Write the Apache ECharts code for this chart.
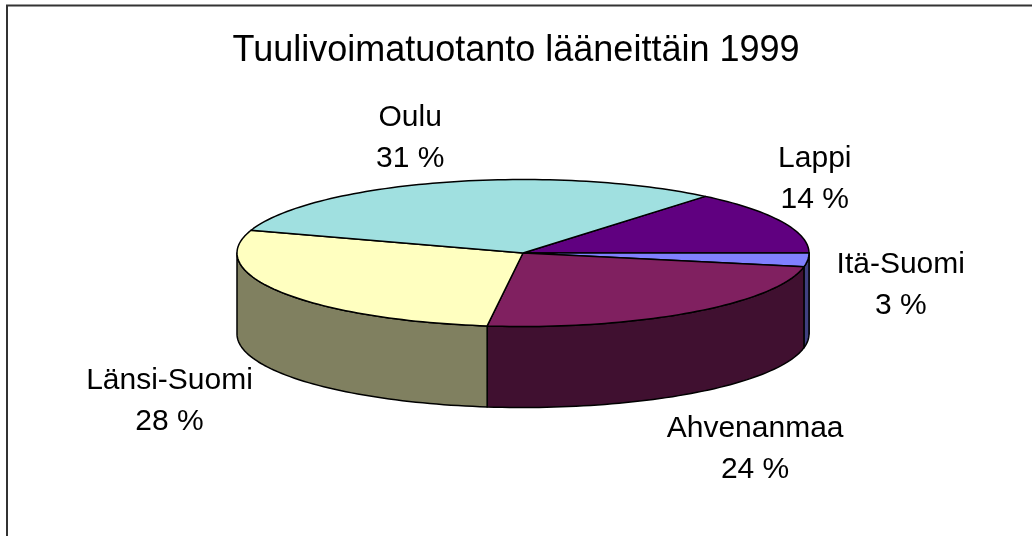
<!DOCTYPE html>
<html lang="fi">
<head>
    <meta charset="UTF-8">
    <title>Tuulivoimatuotanto lääneittäin 1999</title>
    <style>
        * {
            margin: 0;
            padding: 0;
        }

        body {
            background: #fff;
        }

        #chart {
            width: 1032px;
            height: 536px;
        }
    </style>
    <script src="https://cdn.jsdelivr.net/npm/echarts@6/dist/echarts.min.js"></script>
</head>
<body>
<div id="chart"></div>

<script>
    // data (clockwise from the top-right)
    const categories = ['Lappi', 'Itä-Suomi', 'Ahvenanmaa', 'Länsi-Suomi', 'Oulu']
    const shares = [14, 3, 24, 28, 31]
    const topColors = ['#600080', '#8080FF', '#802060', '#FFFFC0', '#A0E0E0']

    // label nudges relative to the rim point at each slice's middle angle
    const labelOffset = [[33, -42], [93, 25], [64, 137], [-112, 109], [-33, -44]]

    // 3d pie geometry
    const cx = 523, cy = 253, rx = 286, ry = 73.5, depth = 81
    const startDeg = -50.4
    const font = 'Liberation Sans, Arial, sans-serif'

    const total = shares.reduce((s, v) => s + v, 0)
    const cum = []
    shares.reduce((s, v, i) => { cum[i] = s; return s + v }, 0)

    function shade(hex, k) {
        let n = parseInt(hex.slice(1), 16)
        let r = Math.round(((n >> 16) & 255) * k)
        let g = Math.round(((n >> 8) & 255) * k)
        let b = Math.round((n & 255) * k)
        return 'rgb(' + r + ',' + g + ',' + b + ')'
    }

    function rim(deg, dy) {
        let t = deg * Math.PI / 180
        return [cx + rx * Math.cos(t), cy + ry * Math.sin(t) + (dy || 0)]
    }

    function arc(a0, a1, dy) {
        let pts = []
        let n = Math.max(2, Math.ceil(Math.abs(a1 - a0) / 1.5))
        for (let k = 0; k <= n; k++) {
            pts.push(rim(a0 + (a1 - a0) * k / n, dy))
        }
        return pts
    }

    function renderItem(params, api) {
        let i = params.dataIndex
        let v = api.value(0)
        let a0 = startDeg + cum[i] / total * 360
        let a1 = a0 + v / total * 360
        let color = topColors[i]
        let children = []

        // front side wall (only the part facing the viewer)
        let s0 = Math.max(a0, 0), s1 = Math.min(a1, 180)
        if (s1 > s0) {
            let top = arc(s0, s1, 0)
            let bottom = arc(s1, s0, depth)
            children.push({
                type: 'polygon',
                z2: 1,
                shape: {points: top.concat(bottom)},
                style: {fill: shade(color, 0.5), stroke: '#000', lineWidth: 1.5, lineJoin: 'round'}
            })
        }

        // top face
        children.push({
            type: 'polygon',
            z2: 10,
            shape: {points: [[cx, cy]].concat(arc(a0, a1, 0))},
            style: {fill: color, stroke: '#000', lineWidth: 1.5, lineJoin: 'round'}
        })

        // label
        let p = rim((a0 + a1) / 2, 0)
        children.push({
            type: 'text',
            z2: 20,
            style: {
                text: categories[i] + '\n' + v + ' %',
                x: p[0] + labelOffset[i][0],
                y: p[1] + labelOffset[i][1],
                align: 'center',
                verticalAlign: 'middle',
                fontSize: 30,
                lineHeight: 41,
                fontFamily: font,
                fill: '#000'
            }
        })

        return {type: 'group', children: children}
    }

    let chart = echarts.init(document.getElementById('chart'))
    let option = {
        animation: false,
        backgroundColor: '#fff',
        title: {
            text: 'Tuulivoimatuotanto lääneittäin 1999',
            left: 'center',
            top: 28,
            textStyle: {
                fontFamily: font,
                fontSize: 36,
                fontWeight: 'normal',
                color: '#000'
            }
        },
        graphic: [{
            type: 'rect',
            silent: true,
            shape: {x: 7, y: 5.5, width: 1200, height: 700},
            style: {fill: 'none', stroke: '#333', lineWidth: 2}
        }],
        series: [{
            type: 'custom',
            coordinateSystem: 'none',
            silent: true,
            renderItem: renderItem,
            data: categories.map((c, i) => ({name: c, value: [shares[i]]}))
        }]
    }
    chart.setOption(option)
</script>
</body>
</html>
